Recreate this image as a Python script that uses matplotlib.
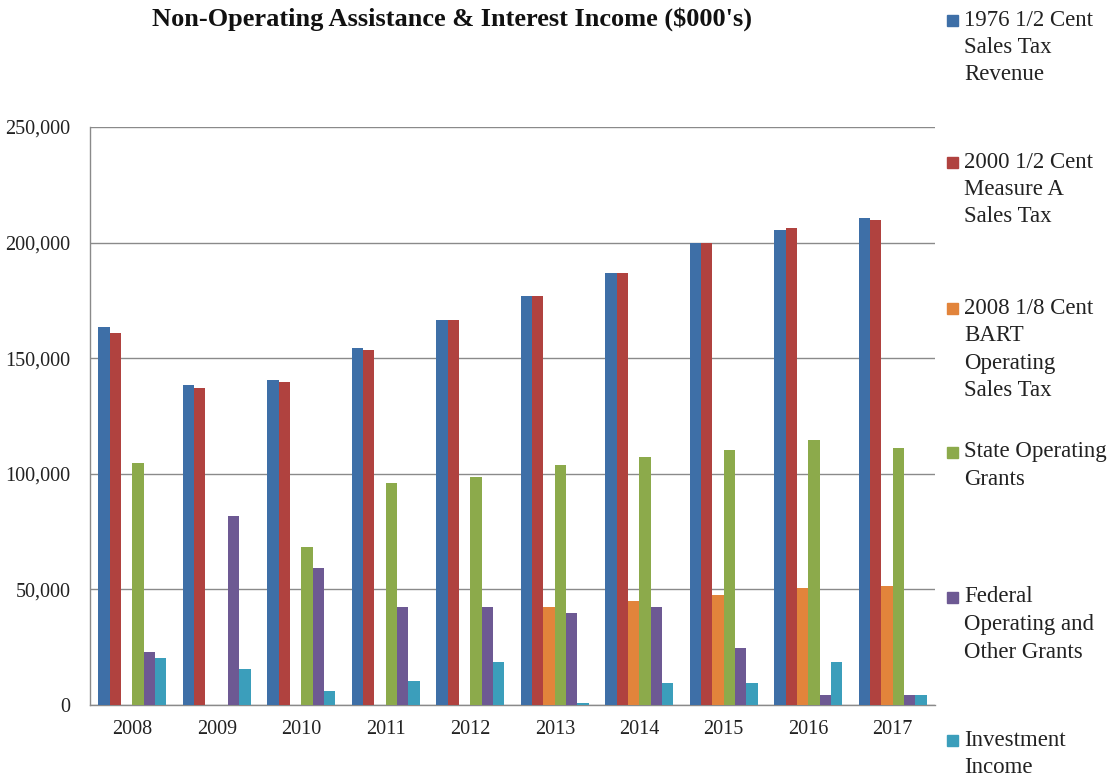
import matplotlib
matplotlib.use("Agg")
import matplotlib.pyplot as plt
import numpy as np
from matplotlib.patches import Rectangle

years = ["2008", "2009", "2010", "2011", "2012", "2013", "2014", "2015", "2016", "2017"]
series_names = [
    "1976 1/2 Cent\nSales Tax\nRevenue",
    "2000 1/2 Cent\nMeasure A\nSales Tax",
    "2008 1/8 Cent\nBART\nOperating\nSales Tax",
    "State Operating\nGrants",
    "Federal\nOperating and\nOther Grants",
    "Investment\nIncome",
]
sales_tax_1976 = [163400, 138300, 140700, 154300, 166700, 177000, 187000, 200000, 205500, 210500]
measure_a_2000 = [161100, 137300, 139900, 153500, 166700, 177000, 187000, 199800, 206300, 209800]
bart_sales_tax = [0, 0, 0, 0, 0, 42300, 44900, 47400, 50500, 51600]
state_grants = [104600, 0, 68500, 96100, 98700, 103800, 107200, 110500, 114700, 111300]
federal_grants = [23000, 81900, 59400, 42300, 42300, 39900, 42300, 24800, 4500, 4500]
investment_income = [20400, 15500, 6200, 10400, 18800, 1000, 9600, 9600, 18800, 4500]
y_ticks = [0, 50000, 100000, 150000, 200000, 250000]

series = [sales_tax_1976, measure_a_2000, bart_sales_tax, state_grants, federal_grants, investment_income]
colors = ["#3E6FA7", "#B0423F", "#E2843B", "#8CAA4B", "#6D5993", "#3B9EBB"]

plt.rcParams["font.family"] = ["Liberation Serif", "DejaVu Serif"]

W, H = 1118, 782
fig = plt.figure(figsize=(W / 100, H / 100), dpi=100)
ax = fig.add_axes([90 / W, 1 - 705 / H, 845 / W, 578 / H])

x = np.arange(len(years))
n = len(series)
w = 1 / 7.5
for i, (vals, c) in enumerate(zip(series, colors)):
    ax.bar(x + (i - (n - 1) / 2) * w, vals, width=w, color=c, zorder=3, linewidth=0)

ax.set_xlim(-0.5, len(years) - 0.5)
ax.set_ylim(0, 250000)
ax.set_yticks(y_ticks)
ax.set_yticklabels([f"{v:,}" for v in y_ticks], fontsize=14.5, color="#222222")
ax.set_xticks(x)
ax.set_xticklabels(years, fontsize=14.5, color="#222222")
ax.tick_params(axis="both", length=0)
ax.tick_params(axis="y", pad=14)
ax.tick_params(axis="x", pad=11)
ax.yaxis.grid(True, color="#8a8a8a", linewidth=1.0, zorder=0)
ax.set_axisbelow(True)
for s in ["top", "right"]:
    ax.spines[s].set_visible(False)
for s in ["left", "bottom"]:
    ax.spines[s].set_color("#8a8a8a")
    ax.spines[s].set_linewidth(1.0)

fig.text(452 / W, 1 - 19 / H, "Non-Operating Assistance & Interest Income ($000's)",
         ha="center", va="center", fontsize=19, fontweight="bold", color="#111111")

legend_y = [20, 162, 308, 452, 597, 740]
line_h = 27.5
for name, c, yy in zip(series_names, colors, legend_y):
    fig.patches.append(Rectangle((947 / W, 1 - (yy + 5.5) / H), 11 / W, 11 / H,
                                 transform=fig.transFigure, color=c, figure=fig))
    for k, line in enumerate(name.split("\n")):
        fig.text(964 / W, 1 - (yy + k * line_h) / H, line, ha="left", va="center",
                 fontsize=16.5, color="#222222")

fig.savefig("out.png", dpi=100)
